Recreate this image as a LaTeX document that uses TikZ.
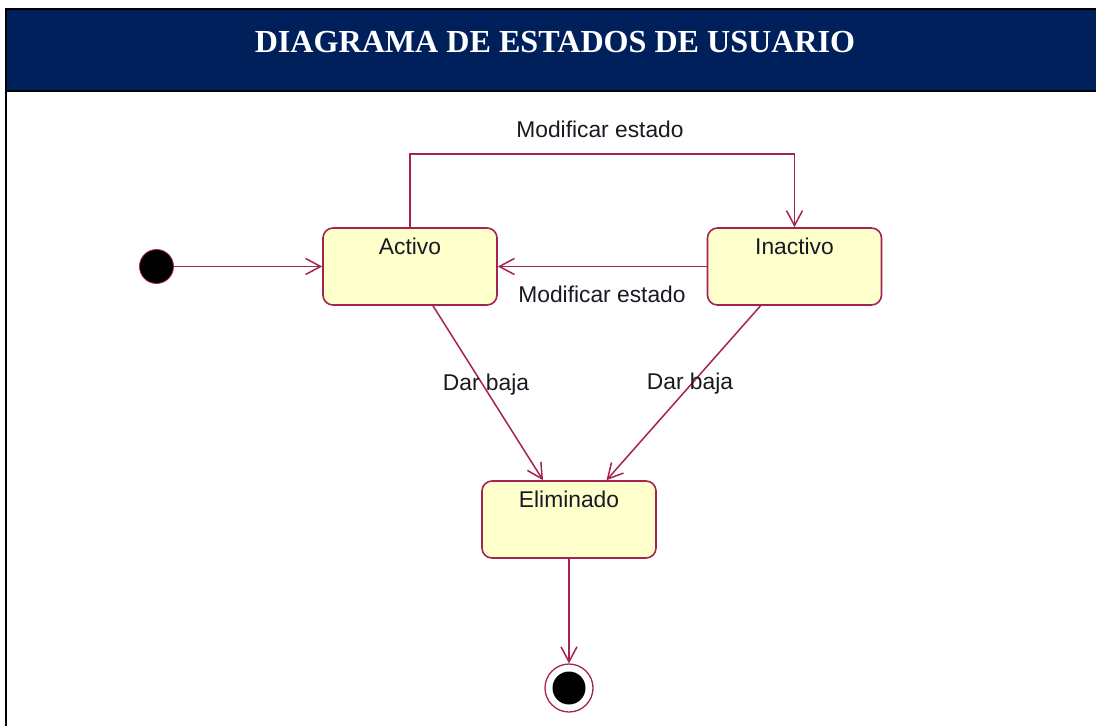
\documentclass[tikz,border=0pt]{standalone}
\usepackage{fontspec}
\setmainfont{Liberation Sans}
\newfontfamily\titlefont{Liberation Serif}
\usetikzlibrary{arrows.meta}
\definecolor{navy}{RGB}{0,32,92}
\definecolor{lc}{RGB}{165,35,80}
\definecolor{boxfill}{RGB}{255,255,204}
\definecolor{txt}{RGB}{25,25,35}
\tikzset{
  state/.style={draw=lc, line width=1.6pt, fill=boxfill, rounded corners=10pt,
    minimum width=174pt, minimum height=77pt, inner sep=0pt},
  lbl/.style={font=\fontsize{22.8}{27}\selectfont, text=txt, inner sep=2pt},
  conn/.style={draw=lc, line width=1.5pt, -{Straight Barb[length=15pt,width=16pt,line width=1.5pt]}},
}
\begin{document}
\begin{tikzpicture}[x=1pt,y=-1pt]
\useasboundingbox (0,0) rectangle (1096,726);
\fill[white] (0,0) rectangle (1096,726);
% header
\fill[navy] (6,9) rectangle (1096,91);
\draw[black, line width=2.5pt] (1096,9) -- (6,9) -- (6,726);
\draw[black, line width=2.5pt] (6,91) -- (1096,91);
\node[text=white, font=\titlefont\bfseries\fontsize{32.1}{36}\selectfont, inner sep=0pt] (title) at (555,42.5) {DIAGRAMA DE ESTADOS DE USUARIO};

% states
\node[state, label={[lbl, anchor=north, yshift=-9pt]north:Activo}] (act) at (410,266.5) {};
\node[state, label={[lbl, anchor=north, yshift=-9pt]north:Inactivo}] (inact) at (794.5,266.5) {};
\node[state, label={[lbl, anchor=north, yshift=-9pt]north:Eliminado}] (elim) at (569,519.5) {};

% initial and final
\node[circle, fill=black, draw=lc, line width=0.8pt, minimum size=34pt, inner sep=0pt] (init) at (156.5,266.5) {};
\node[circle, fill=white, draw=lc, line width=1.3pt, minimum size=48pt, inner sep=0pt,
  path picture={\fill[black] (path picture bounding box.center) circle (16.5pt);}] (fin) at (569,688) {};

% transitions
\draw[conn] (init) -- (act.west);
\draw[conn] (act.north) -- ++(0,-73) coordinate (tl) -| (inact.north);
\node[lbl] (m1) at (600,129) {Modificar estado};
\draw[conn] (inact.west) -- (act.east);
\node[lbl] (m2) at (602,294) {Modificar estado};
\draw[conn] ([xshift=23pt]act.south) -- ([xshift=-26pt]elim.north);
\node[lbl] (d1) at (486,385) {Dar baja};
\draw[conn] ([xshift=-34pt]inact.south) -- ([xshift=37.5pt]elim.north);
\node[lbl] (d2) at (690,384) {Dar baja};
\draw[conn] (elim.south) -- (fin.north);
\end{tikzpicture}
\end{document}
